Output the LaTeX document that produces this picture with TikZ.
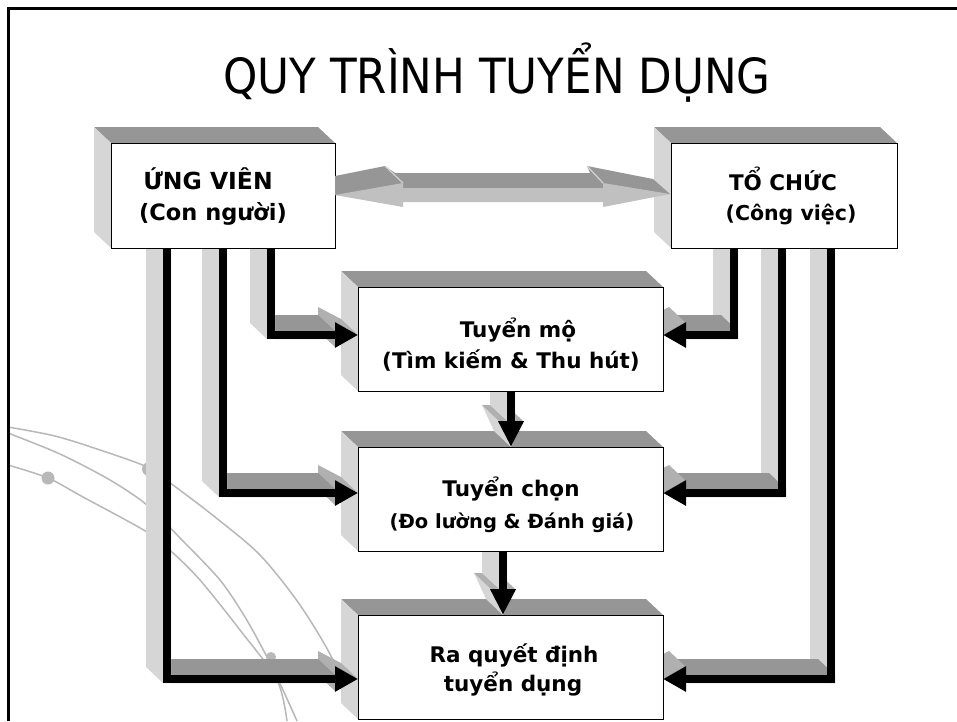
\documentclass[tikz,border=0pt]{standalone}
\usepackage{fontspec}
\setmainfont{DejaVu Sans}
\newfontfamily\titlefont[FakeStretch=0.9]{DejaVu Sans}
\usetikzlibrary{arrows.meta}
\definecolor{topg}{HTML}{969696}
\definecolor{sideg}{HTML}{D6D6D6}
\definecolor{headg}{HTML}{B0B0B0}
\definecolor{arrg}{HTML}{C0C0C0}
\definecolor{decog}{HTML}{B8B8B8}
\newcommand\BoxFaces[4]{%
  \fill[topg] ({#1},{#2}) -- ({#1-17},{#2-16}) -- ({#3-17},{#2-16}) -- ({#3},{#2}) -- cycle;
  \fill[sideg] ({#1},{#2}) -- ({#1-17},{#2-16}) -- ({#1-17},{#4-16}) -- ({#1},{#4}) -- cycle;}
\newcommand\SweepRect[5]{%
  \fill[#1] ({#2},{#5}) -- ({#2-17},{#5-16}) -- ({#2-17},{#3-16}) -- ({#4-17},{#3-16}) -- ({#4},{#3}) -- ({#4},{#5}) -- cycle;}
\newcommand\HeadR[3]{%
  \fill[headg] ({#1},{#3+12}) -- ({#1-17},{#3-4}) -- ({#1-17},{#3-28}) -- ({#2-17},{#3-16}) -- ({#2},{#3}) -- cycle;}
\newcommand\HeadL[3]{%
  \fill[headg] ({#2},{#3}) -- ({#1},{#3-12}) -- ({#1-17},{#3-28}) -- ({#2-17},{#3-16}) -- cycle;}
\newcommand\HeadD[3]{%
  \fill[sideg] ({#1+12},{#2}) -- ({#1},{#3}) -- ({#1-17},{#3-16}) -- ({#1-29},{#2-16}) -- ({#1-5},{#2-16}) -- cycle;
  \fill[headg] ({#1-12},{#2}) -- ({#1+12},{#2}) -- ({#1-5},{#2-16}) -- ({#1-29},{#2-16}) -- cycle;}
\newcommand\ConnL[3]{%
  \HeadR{335}{358}{#2}
  \SweepRect{topg}{#1+4}{#2-4}{335}{#2+4}
  \SweepRect{sideg}{#1-4}{248}{#1+4}{#2+4}
  \coordinate (#3s) at ({#1},244);
  \coordinate (#3e) at (358,{#2});
  \draw[conn] (#3s) |- (#3e);}
\newcommand\ConnR[3]{%
  \SweepRect{sideg}{#1-4}{248}{#1+4}{#2+4}
  \SweepRect{topg}{686}{#2-4}{#1+4}{#2+4}
  \HeadL{686}{663}{#2}
  \coordinate (#3s) at ({#1},244);
  \coordinate (#3e) at (663,{#2});
  \draw[conn] (#3s) |- (#3e);}
\newcommand\ConnD[4]{%
  \HeadD{#1}{#3-26}{#3}
  \SweepRect{sideg}{#1-4}{#2}{#1+4}{#3-26}
  \coordinate (#4s) at ({#1},{#2-4});
  \coordinate (#4e) at ({#1},{#3});
  \draw[conn,-{Triangle[length=26pt,width=24pt]}] (#4s) -- (#4e);}
\begin{document}
\begin{tikzpicture}[x=1pt,y=-1pt,
  front/.style={draw=black, line width=1.2pt, fill=white, inner sep=0pt, anchor=north west},
  conn/.style={draw=black, line width=8pt, line join=miter, -{Triangle[length=23pt,width=24pt]}},
  lbl/.style={font=\bfseries\fontsize{21.5}{26}\selectfont, anchor=base, inner sep=0pt},
  lbls/.style={font=\bfseries\fontsize{19.5}{24}\selectfont, anchor=base, inner sep=0pt},
  deco/.style={draw=decog, line width=1.5pt},
  edge3d/.style={draw=arrg!70!white, line width=1.2pt}]
\useasboundingbox (0,0) rectangle (957,721);
\fill[white] (0,0) rectangle (957,721);
% background decoration
\draw[deco] plot[smooth] coordinates {(8,427) (55,436) (100,450) (147,467) (173,485) (215,517) (260,555) (300,605) (333,660) (348,705)};
\draw[deco] plot[smooth] coordinates {(8,433) (60,454) (110,480) (147,505) (182,540) (220,580) (245,617) (267,657) (283,690) (297,721)};
\draw[deco] plot[smooth] coordinates {(8,465) (48,478) (83,497) (147,532) (173,553) (200,580) (240,630) (277,680) (287,721)};
\fill[decog] (48,478) circle[radius=6.5pt];
\fill[decog] (149,469) circle[radius=7pt];
\fill[decog] (271,657) circle[radius=5pt];
% box side faces
\BoxFaces{111}{143}{335}{248}
\BoxFaces{671}{143}{897}{248}
\BoxFaces{358}{287}{663}{391}
\BoxFaces{358}{447}{663}{551}
\BoxFaces{358}{615}{663}{719}
% connectors
\ConnL{271}{335}{cc}
\ConnL{223}{493}{cb}
\ConnL{167}{679}{ca}
\ConnR{734}{335}{cd}
\ConnR{782}{493}{ce}
\ConnR{831}{679}{cf}
\ConnD{511}{391}{447}{cg}
\ConnD{503}{551}{615}{ch}
% box fronts
\node[front, minimum width=224pt, minimum height=105pt] (b1) at (111,143) {};
\node[front, minimum width=226pt, minimum height=105pt] (b2) at (671,143) {};
\node[front, minimum width=305pt, minimum height=104pt] (b3) at (358,287) {};
\node[front, minimum width=305pt, minimum height=104pt] (b4) at (358,447) {};
\node[front, minimum width=305pt, minimum height=104pt] (b5) at (358,615) {};
% labels
\node[lbl, font=\bfseries\fontsize{23.5}{28}\selectfont] (l1a) at (208,189) {ỨNG VIÊN};
\node[lbl, font=\bfseries\fontsize{22.5}{28}\selectfont] (l1b) at (213,220) {(Con người)};
\node[lbl] (l2a) at (783,190) {TỔ CHỨC};
\node[lbl, font=\bfseries\fontsize{20.5}{26}\selectfont] (l2b) at (791,220) {(Công việc)};
\node[lbl] (l3a) at (518,337) {Tuyển mộ};
\node[lbl] (l3b) at (511,368) {(Tìm kiếm \& Thu hút)};
\node[lbl] (l4a) at (511,496) {Tuyển chọn};
\node[lbls] (l4b) at (512,528) {(Đo lường \& Đánh giá)};
\node[lbl] (l5a) at (514,662) {Ra quyết định};
\node[lbl] (l5b) at (513,691) {tuyển dụng};
% double 3D arrow between b1 and b2
\fill[topg] (335,195) -- (335,176) -- (385,166) -- (395,173) -- (590,173) -- (587,166) -- (653,179) -- (670,194) -- cycle;
\fill[arrg] (335,195) -- (403,183) -- (403,188) -- (603,188) -- (603,183) -- (670,194) -- (603,207) -- (603,202) -- (403,202) -- (403,207) -- cycle;
\draw[edge3d] (385,166) -- (403,183);
\draw[edge3d] (587,166) -- (603,183);
% frame
\draw[line width=2.5pt] (8.5,721) -- (8.5,8.5) -- (957,8.5);
% title
\node[anchor=base, inner sep=0pt, font=\titlefont\fontsize{48.5}{58}\selectfont] (title) at (497,93) {QUY TRÌNH TUYỂN DỤNG};
\end{tikzpicture}
\end{document}
